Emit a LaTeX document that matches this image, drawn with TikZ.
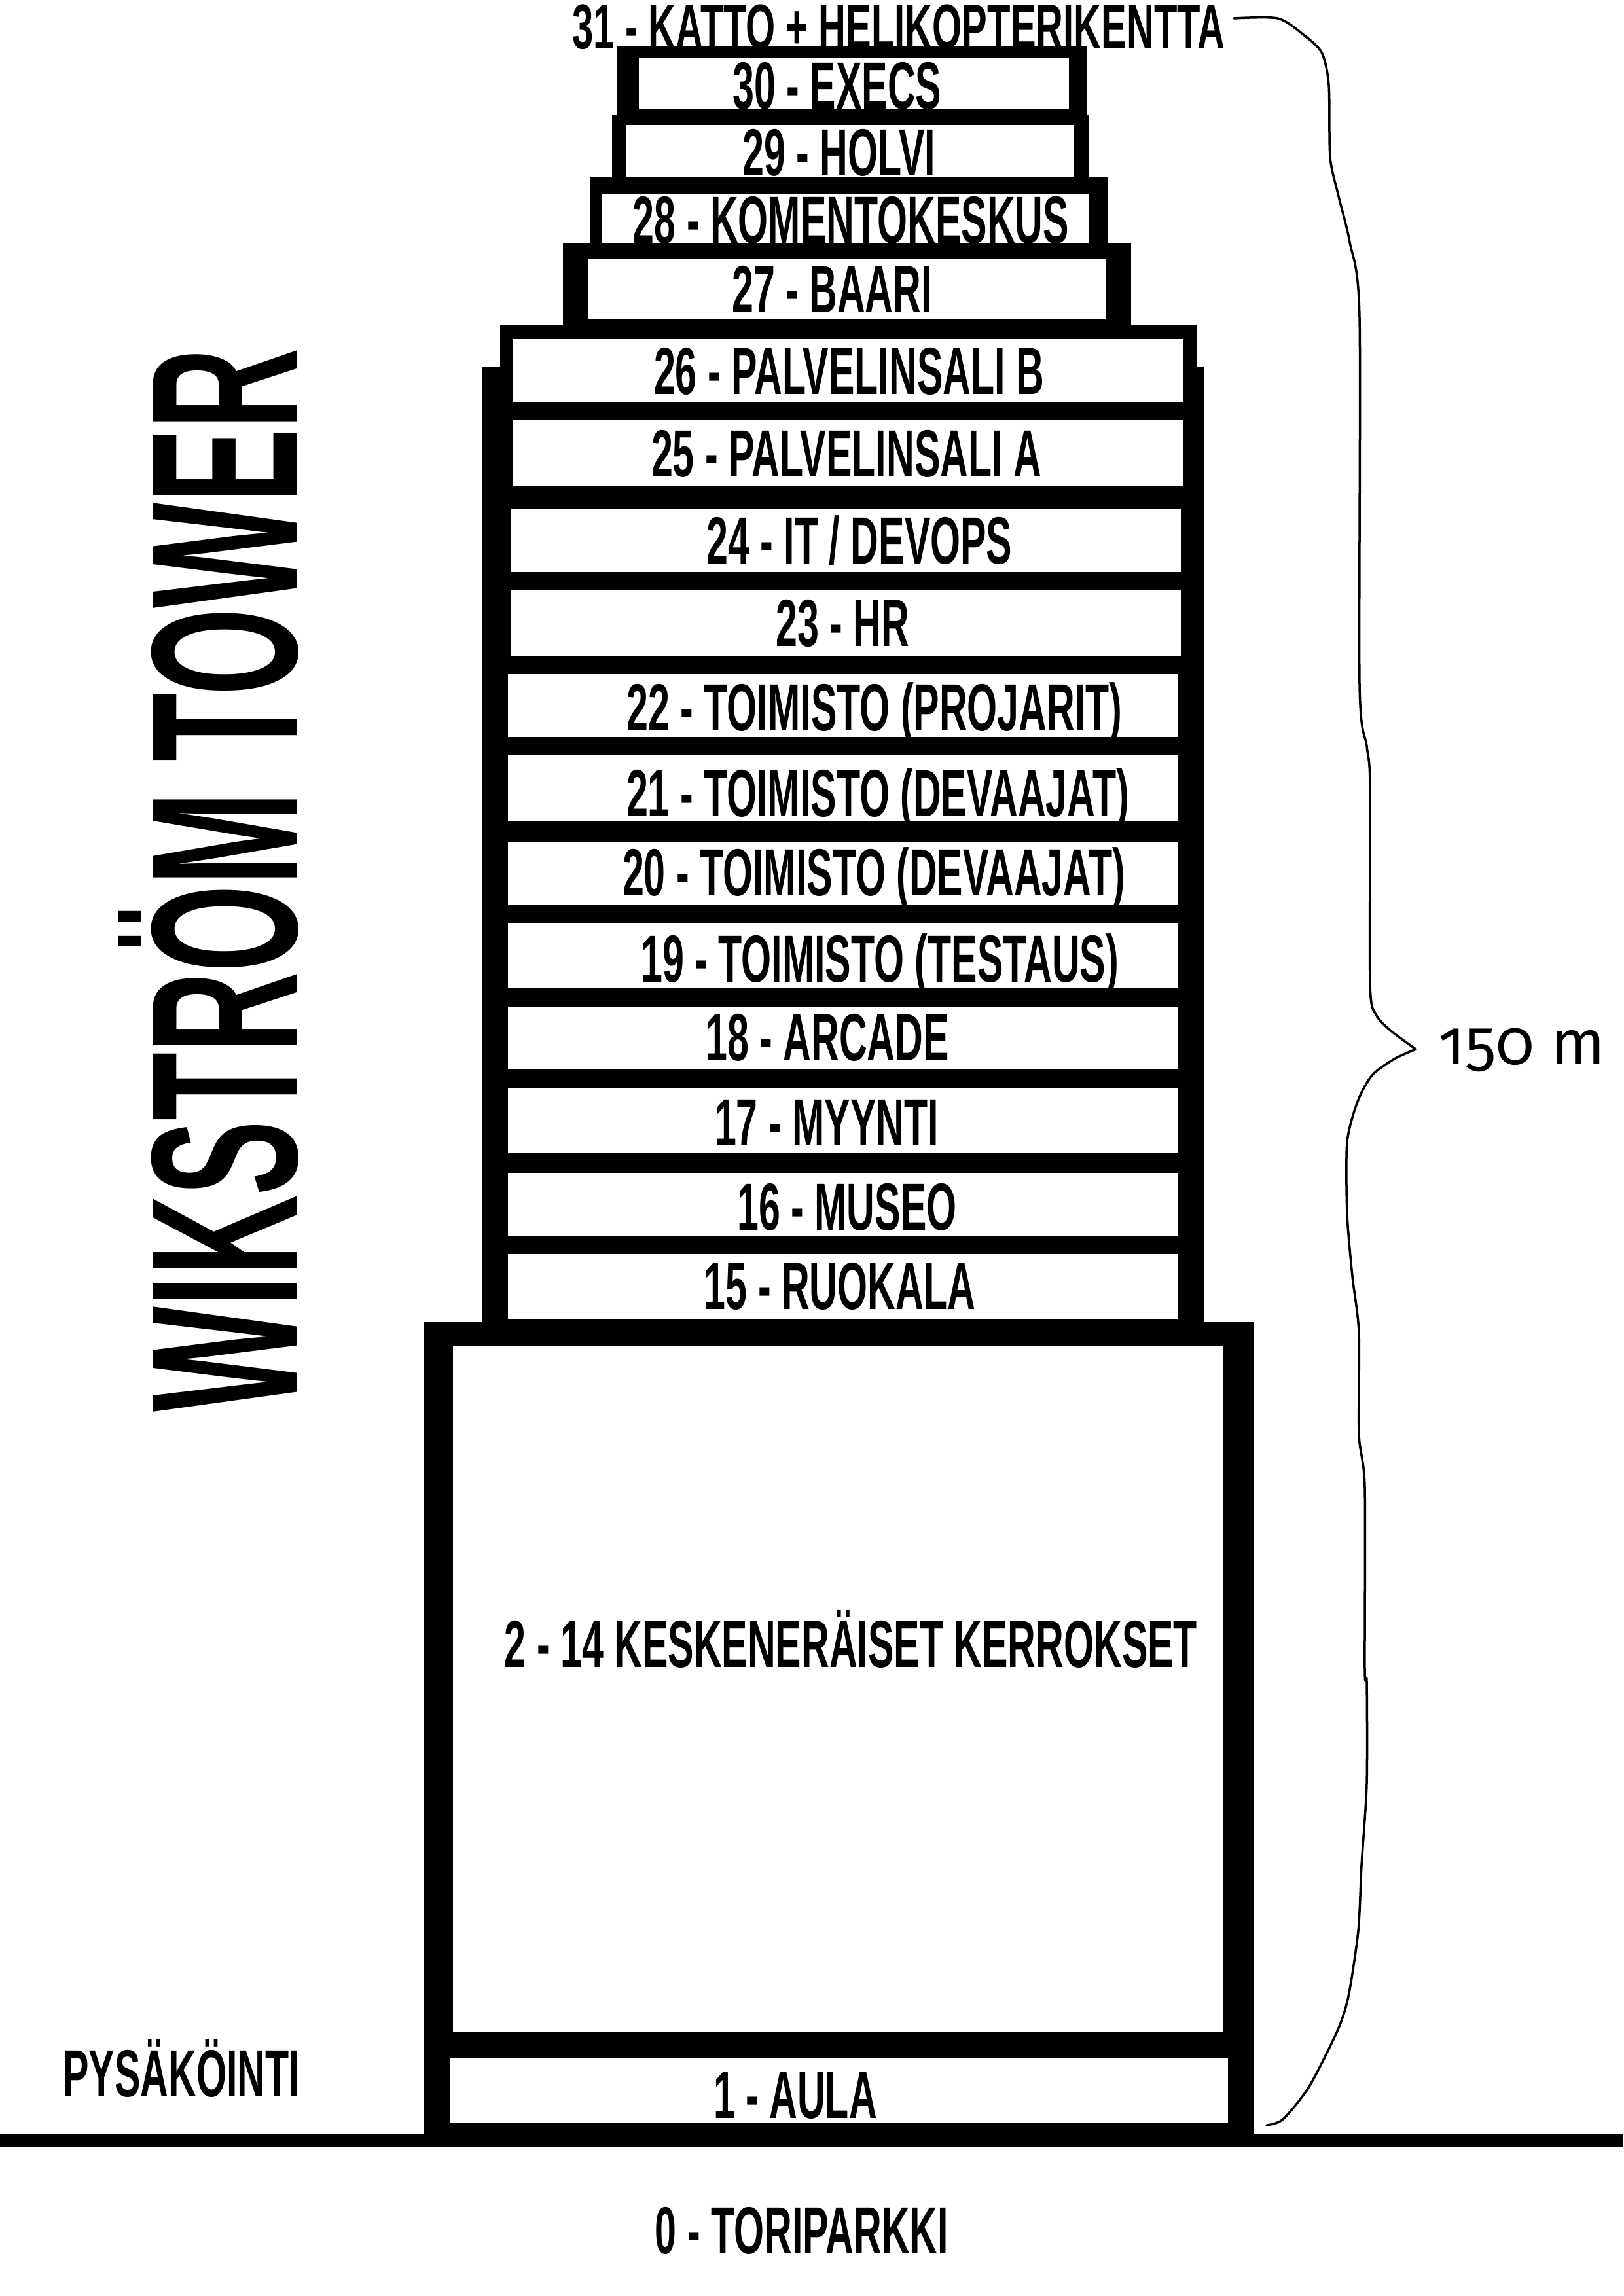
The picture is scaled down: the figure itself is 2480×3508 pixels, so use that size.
\documentclass[tikz,border=0pt]{standalone}
\usepackage{fontspec}
\newfontfamily\towerfont{Liberation Sans Bold}[FakeStretch=0.58]
\newfontfamily\titlefont{Liberation Sans Bold}[FakeStretch=0.535]
\newfontfamily\meterfont{Fira Sans}[Numbers=OldStyle]

\begin{document}
\begin{tikzpicture}[x=0.01cm,y=-0.01cm,line join=round,
  lbl/.style={anchor=base,inner sep=0pt,font={\towerfont\fontsize{29pt}{29pt}\selectfont}},
  room/.style={fill=white}]
\useasboundingbox[fill=white] (0,0) rectangle (2480,3508);
% black body of the tower
\fill (943,70) rectangle (1660,176);
\fill (935,176) rectangle (1663,270);
\fill (901,270) rectangle (1692,372);
\fill (860,372) rectangle (1728,497);
\fill (764,497) rectangle (1828,560);
\fill (736,560) rectangle (1840,2020);
\fill (648,2020) rectangle (1916,3260);
\fill (0,3260) rectangle (2480,3280);
% floors
\fill[room] (976,87.5) rectangle (1633,167);
\fill[room] (956,191) rectangle (1641,271);
\fill[room] (920,297) rectangle (1663,372);
\fill[room] (898,396) rectangle (1690,487);
\fill[room] (784,518) rectangle (1808,614);
\fill[room] (784,642) rectangle (1808,742);
\fill[room] (780,778) rectangle (1804,874);
\fill[room] (780,902) rectangle (1804,1002);
\fill[room] (776,1030) rectangle (1800,1126);
\fill[room] (776,1154) rectangle (1800,1254);
\fill[room] (776,1286) rectangle (1800,1382);
\fill[room] (776,1410) rectangle (1800,1510);
\fill[room] (776,1538) rectangle (1800,1634);
\fill[room] (776,1662) rectangle (1800,1762);
\fill[room] (776,1792) rectangle (1800,1888);
\fill[room] (776,1916) rectangle (1800,2016);
\fill[room] (692,2056) rectangle (1868,3104);
\fill[room] (688,3144) rectangle (1876,3244);
% floor names
\node[lbl,xscale=0.98,yscale=0.95] (f31) at (1373,74) {31 - KATTO + HELIKOPTERIKENTTA};
\node[lbl] (f30) at (1279,166) {30 - EXECS};
\node[lbl] (f29) at (1282,268) {29 - HOLVI};
\node[lbl] (f28) at (1300,371) {28 - KOMENTOKESKUS};
\node[lbl] (f27) at (1271,477) {27 - BAARI};
\node[lbl] (f26) at (1297,602) {26 - PALVELINSALI B};
\node[lbl] (f25) at (1293,728) {25 - PALVELINSALI A};
\node[lbl] (f24) at (1313,861) {24 - IT / DEVOPS};
\node[lbl] (f23) at (1287,987) {23 - HR};
\node[lbl] (f22) at (1336,1116) {22 - TOIMISTO (PROJARIT)};
\node[lbl] (f21) at (1341,1247) {21 - TOIMISTO (DEVAAJAT)};
\node[lbl] (f20) at (1335,1368) {20 - TOIMISTO (DEVAAJAT)};
\node[lbl] (f19) at (1344,1500) {19 - TOIMISTO (TESTAUS)};
\node[lbl] (f18) at (1264,1620) {18 - ARCADE};
\node[lbl] (f17) at (1263,1750) {17 - MYYNTI};
\node[lbl] (f16) at (1294,1879) {16 - MUSEO};
\node[lbl] (f15) at (1283,2000) {15 - RUOKALA};
\node[lbl] (f2) at (1300,2547) {2 - 14 KESKENERÄISET KERROKSET};
\node[lbl] (f1) at (1215,3236) {1 - AULA};
\node[lbl] (f0) at (1225,3443) {0 - TORIPARKKI};
\node[lbl] (parking) at (277,3203) {PYSÄKÖINTI};
% title
\node[lbl,rotate=90,font={\titlefont\fontsize{90.6pt}{90.6pt}\selectfont}] (title) at (453,1345) {WIKSTRÖM TOWER};
% height brace
\draw[line width=0.035cm,line cap=round] plot[smooth,tension=0.45] coordinates {(1885,28) (1952,28) (1990,52) (2019,80) (2030,130) (2032,240) (2045,300) (2062,370) (2077,485) (2077,1046) (2088,1140) (2093,1200) (2093,1502) (2102,1550) (2125,1575) (2163,1603)};
\draw[line width=0.035cm,line cap=round] plot[smooth,tension=0.45] coordinates {(2163,1603) (2130,1618) (2096,1643) (2074,1683) (2058,1745) (2058,1855) (2066,1950) (2076,2036) (2076,2191) (2085,2273) (2085,2552) (2088,2570) (2088,2725) (2080,2850) (2075,2950) (2060,3050) (2043,3103) (2000,3188) (1960,3238) (1935,3247)};
\node[anchor=base,inner sep=0pt,font={\meterfont\fontsize{27.5pt}{27.5pt}\selectfont}] (height) at (2325,1626) {150 m};
\end{tikzpicture}
\end{document}
